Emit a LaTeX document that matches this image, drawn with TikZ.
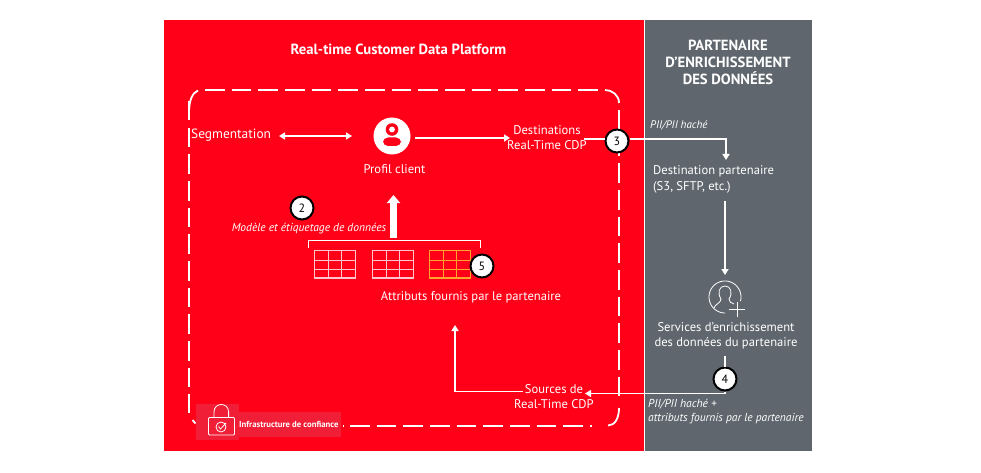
\documentclass[tikz,border=0pt]{standalone}
\usepackage{fontspec}
\setmainfont{PT Sans}
\usetikzlibrary{arrows.meta}
\definecolor{redbg}{HTML}{FF0018}
\definecolor{graybg}{HTML}{5F666D}
\definecolor{lockbg}{HTML}{F01E36}
\definecolor{gridpink}{HTML}{FFC4CC}
\definecolor{gridorange}{HTML}{FFA52E}
\tikzset{
  x=1pt,y=-1pt,
  txt/.style={text=white,inner sep=0pt,align=center,font=\fontsize{12.6}{15.5}\selectfont},
  txtit/.style={txt,font=\fontsize{11.5}{14}\selectfont\itshape},
  ttl/.style={txt,font=\fontsize{14.7}{17}\selectfont\bfseries},
  badge/.style={circle,draw=black,line width=2pt,fill=white,minimum size=23pt,inner sep=0pt,text=black,font=\fontsize{12}{12}\selectfont},
  conn/.style={draw=white,line width=1.5pt},
  arr/.style={conn,-{Triangle[width=7pt,length=6pt]}},
  dsh/.style={draw=white,line width=1.8pt,dash pattern=on 19.5pt off 7.17pt},
  cor/.style={draw=white,line width=1.8pt},
  thin1/.style={draw=white,line width=1pt},
  ico/.style={draw=white,line width=.8pt},
}
\newcommand{\gridtable}[3]{%
  \draw[#3,line width=1.2pt] (#1,#2) rectangle +(41,27.5);
  \draw[#3,line width=1pt] (#1+14,#2) -- +(0,27.5) (#1+27,#2) -- +(0,27.5)
     (#1,#2+9.5) -- +(41,0) (#1,#2+18.5) -- +(41,0);
}
\begin{document}
\begin{tikzpicture}
\useasboundingbox (0,0) rectangle (981,473);
\fill[white] (0,0) rectangle (981,473);
\fill[redbg] (164,20) rectangle (644,451);
\fill[graybg] (645,20) rectangle (812,451);
% dashed frame
\draw[dsh] (205,90) -- (605,90);
\draw[dsh] (189,101) -- (189,413);
\draw[dsh] (619,110) -- (619,403);
\draw[dsh] (350,426) -- (592,426);
\draw[cor] (189,113) .. controls (189,101) and (192,93) .. (198,90.5);
\draw[cor] (605,90) .. controls (612,90) and (619,95) .. (619,103);
\draw[cor] (608,425.5) .. controls (615,425.5) and (619,418) .. (619,408);
\draw[cor] (192.5,420) -- (195.5,423.5);
\draw[cor] (343,426) -- (344,426);
% trust infrastructure
\fill[lockbg] (196,404) rectangle (239,440);
\fill[lockbg] (239,412) rectangle (341,437);
\draw[ico,rounded corners=1pt] (208.5,417.5) rectangle (234.5,435);
\draw[ico] (214,417.5) -- (214,412) .. controls (214,402) and (228.6,402) .. (228.6,412) -- (228.6,417.5);
\draw[ico] (221,427) circle[radius=5];
\draw[ico] (218.5,426.5) -- (220.5,429) -- (226,423);
\node[txt,anchor=west,font=\fontsize{8.7}{10}\selectfont\bfseries] (infra) at (239,424) {Infrastructure de confiance};
% titles
\node[ttl] (title) at (398.5,49) {Real-time Customer Data Platform};
\node[ttl] (partner) at (728,62) {PARTENAIRE\\D’ENRICHISSEMENT\\DES DONNÉES};
% texts
\node[txt,anchor=west,font=\fontsize{13.4}{16}\selectfont] (seg) at (191,135.5) {Segmentation};
\node[circle,fill=white,minimum size=37pt,inner sep=0pt] (profile) at (392,136) {};
\fill[redbg] (392,129.5) circle[radius=6.3];
\fill[white] (392,129.5) circle[radius=2.9];
\fill[redbg,rounded corners=5pt] (383,137.5) rectangle (401,146);
\node[txt] (proflabel) at (394.5,169.5) {Profil client};
\node[txt] (dest) at (547,137.5) {Destinations\\Real-Time CDP};
\node[txtit,anchor=west,font=\fontsize{11}{14}\selectfont\itshape] (pii) at (650,125) {PII/PII haché};
\node[txt,align=left,anchor=west] (dpart) at (653,179.5) {Destination partenaire\\(S3, SFTP, etc.)};
\node[txt] (serv) at (726,336) {Services d’enrichissement\\des données du partenaire};
\node[txtit,align=left,anchor=west] (piib) at (648,411.5) {PII/PII haché +\\attributs fournis par le partenaire};
\node[txt] (src) at (554,396.5) {Sources de\\Real-Time CDP};
\node[txtit] (model) at (309,229) {Modèle et étiquetage de données};
\node[txt] (attr) at (471,297) {Attributs fournis par le partenaire};
% badges
\node[badge] (b2) at (302,208) {2};
\node[badge] (b3) at (617,141) {3};
\node[badge] (b4) at (725,379) {4};
% user icon
\draw[ico,domain=90:375,samples=50,smooth,variable=\t] plot ({725+16*cos(\t)},{297+16*sin(\t)});
\draw[ico] (714,308) .. controls (715,304) and (721,303) .. (721,299) .. controls (717,293) and (719,286) .. (725,286) .. controls (731,286) and (733,293) .. (729,299) .. controls (729,302) and (731,303) .. (734,304);
\draw[ico] (729,309) -- (745,309) (737,301.5) -- (737,316.5);
% tables
\gridtable{314.5}{250.5}{gridpink}
\gridtable{372.5}{250.5}{gridpink}
\gridtable{429.5}{250.5}{gridorange}
\node[badge] (b5) at (482,266) {5};
% bracket
\coordinate (brL) at (308.5,248);
\coordinate (brR) at (480.5,248);
\draw[thin1] (brL) -- (308.5,240) -- (480.5,240) -- (brR);
% thick arrow
\coordinate (thickS) at (393.5,238);
\coordinate (thickE) at (393.5,195);
\draw[draw=white,line width=6.5pt,-{Triangle[width=13pt,length=8pt]}] (thickS) -- (thickE);
% connectors
\coordinate (segR) at (279,136);
\coordinate (profL) at (352,136);
\draw[conn,{Triangle[width=7pt,length=6pt]}-{Triangle[width=7pt,length=6pt]}] (segR) -- (profL);
\coordinate (p1) at (415,138);
\coordinate (p2) at (510,138);
\draw[arr] (p1) -- (p2);
\coordinate (d1) at (584,139);
\coordinate (c1) at (726,139);
\coordinate (c2) at (726,160);
\draw[conn] (d1) -- (b3.west|-d1);
\draw[arr] (b3.east|-c1) -- (c1) -- (c2);
\coordinate (e1) at (725,201);
\coordinate (e2) at (725,275);
\draw[arr] (e1) -- (e2);
\coordinate (s1) at (725,356);
\draw[conn] (s1) -- (b4.north);
\coordinate (f1) at (725,393.5);
\coordinate (f2) at (585,393.5);
\draw[arr] (b4.south) -- (f1) -- (f2);
\coordinate (g1) at (522.5,391.5);
\coordinate (g2) at (455,391.5);
\coordinate (g3) at (455,325);
\draw[arr] (g1) -- (g2) -- (g3);
\end{tikzpicture}
\end{document}
